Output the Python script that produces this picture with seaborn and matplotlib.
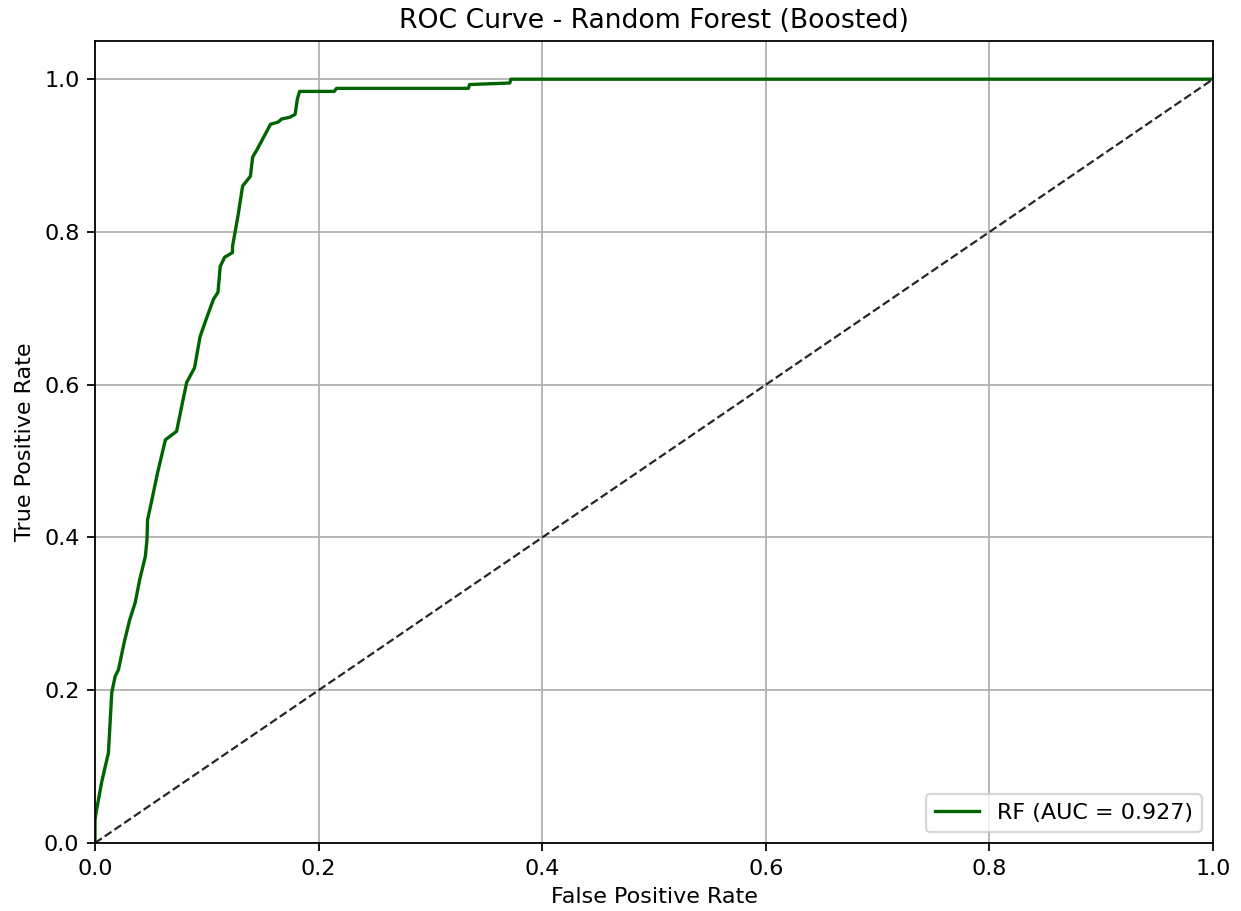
import matplotlib
matplotlib.use("Agg")
import matplotlib.pyplot as plt
import seaborn as sns
import pandas as pd

# ROC operating points of the boosted random forest
fpr = [0.0, 0.0, 0.001, 0.006, 0.012, 0.015, 0.018, 0.021, 0.026, 0.031,
       0.036, 0.040, 0.045, 0.0465, 0.047, 0.051, 0.056, 0.063, 0.073, 0.078,
       0.082, 0.089, 0.094, 0.100, 0.106, 0.110, 0.112, 0.116, 0.123, 0.123,
       0.128, 0.132, 0.139, 0.141, 0.145, 0.149, 0.157, 0.164, 0.167, 0.174,
       0.179, 0.181, 0.183, 0.214, 0.216, 0.334, 0.335, 0.371, 0.372, 1.0]
tpr = [0.0, 0.03, 0.04, 0.08, 0.118, 0.197, 0.218, 0.227, 0.262, 0.292,
       0.315, 0.345, 0.375, 0.397, 0.423, 0.45, 0.485, 0.528, 0.539, 0.575,
       0.603, 0.622, 0.663, 0.688, 0.712, 0.721, 0.755, 0.767, 0.773, 0.781,
       0.822, 0.86, 0.873, 0.898, 0.908, 0.919, 0.941, 0.944, 0.948, 0.95,
       0.954, 0.974, 0.984, 0.984, 0.988, 0.988, 0.993, 0.995, 1.0, 1.0]
auc_value = 0.927
chance = [0.0, 1.0]

roc = pd.DataFrame({"fpr": fpr, "tpr": tpr})

plt.rcParams.update(plt.rcParamsDefault)
dpi = 160
fig = plt.figure(figsize=(1241 / dpi, 911 / dpi), dpi=dpi)
ax = fig.add_axes([95 / 1241, 1 - 843 / 911, (1213 - 95) / 1241, (843 - 41) / 911])

sns.lineplot(data=roc, x="fpr", y="tpr", sort=False, estimator=None,
             color="darkgreen", linewidth=1.5, label=f"RF (AUC = {auc_value:.3f})", ax=ax)
ax.plot(chance, chance, "k--", linewidth=1, alpha=0.85)

ax.set_xlim(0.0, 1.0)
ax.set_ylim(0.0, 1.05)
ax.set_xlabel("False Positive Rate")
ax.set_ylabel("True Positive Rate")
ax.set_title("ROC Curve - Random Forest (Boosted)")
ax.grid(True)
ax.legend(loc="lower right")

fig.savefig("out.png", dpi=dpi)
